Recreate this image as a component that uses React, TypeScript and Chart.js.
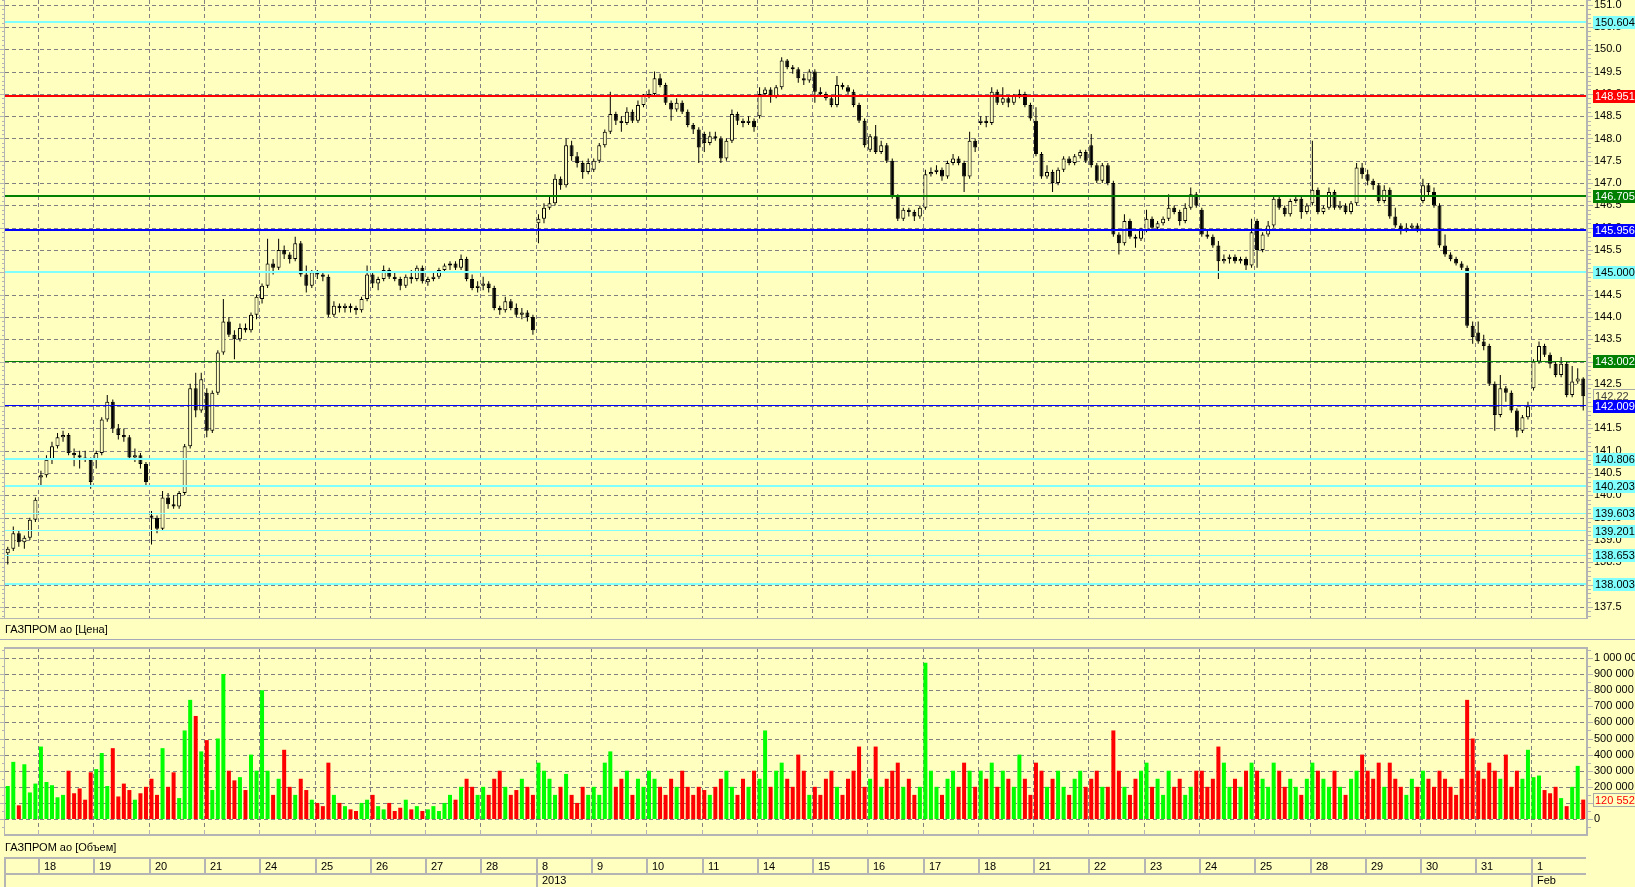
import React, { useEffect, useRef } from 'react';
import { Chart, registerables } from 'chart.js';

Chart.register(...registerables);

// ---------------- DATA ----------------
const dayLabels = ['18', '19', '20', '21', '24', '25', '26', '27', '28', '8', '9', '10', '11', '14', '15', '16', '17', '18', '21', '22', '23', '24', '25', '28', '29', '30', '31', '1'];
const periodDays = [9, 27];
const periodLabels = ['2013', 'Feb'];
const firstDayCandles = 6;
const candlesPerDay = 10;

const opens = [
  138.70, 138.80, 139.15, 138.95, 139.05, 139.45,
  140.40, 140.45, 140.80, 141.10, 141.30, 141.35, 140.95, 140.90, 140.85, 140.80,
  140.80, 140.95, 141.70, 142.10, 141.50, 141.35, 141.30, 140.85, 140.90, 140.70,
  139.55, 139.50, 139.25, 139.95, 139.80, 139.75, 140.05, 141.10, 142.40, 141.90,
  142.30, 141.45, 142.30, 143.20, 143.90, 143.60, 143.50, 143.75, 143.70, 144.05,
  144.40, 144.70, 145.20, 145.10, 145.50, 145.40, 145.30, 145.65, 144.95, 144.70,
  145.00, 144.95, 144.90, 144.05, 144.25, 144.20, 144.25, 144.20, 144.15, 144.40,
  144.95, 144.75, 144.85, 145.05, 144.90, 144.85, 144.70, 144.90, 144.85, 145.10,
  144.78, 144.85, 144.90, 145.05, 145.15, 145.20, 145.10, 145.30, 144.85, 144.65,
  144.70, 144.75, 144.65, 144.20, 144.15, 144.35, 144.20, 144.05, 144.10, 144.00,
  146.10, 146.20, 146.45, 146.55, 147.10, 146.95, 147.85, 147.60, 147.45, 147.25,
  147.30, 147.50, 147.85, 148.15, 148.55, 148.40, 148.35, 148.60, 148.40, 148.75,
  148.95, 149.00, 149.35, 149.20, 148.80, 148.65, 148.80, 148.60, 148.30, 148.20,
  148.10, 147.90, 148.05, 148.00, 147.55, 147.95, 148.55, 148.40, 148.35, 148.40,
  148.50, 149.00, 149.10, 148.95, 149.15, 149.75, 149.60, 149.55, 149.35, 149.30,
  149.50, 149.05, 149.00, 148.90, 148.75, 149.20, 149.15, 149.05, 148.75, 148.40,
  147.75, 148.05, 147.70, 147.85, 147.50, 146.70, 146.20, 146.40, 146.35, 146.25,
  146.45, 147.20, 147.25, 147.30, 147.15, 147.45, 147.55, 147.45, 147.15, 147.95,
  148.35, 148.40, 148.35, 149.05, 148.80, 148.90, 148.80, 148.95, 149.00, 148.75,
  148.40, 147.65, 147.15, 147.25, 147.00, 147.30, 147.55, 147.45, 147.60, 147.70,
  147.85, 147.40, 147.05, 147.40, 147.00, 145.85, 145.65, 146.15, 145.80, 145.75,
  145.95, 146.20, 146.00, 146.10, 146.20, 146.45, 146.35, 146.15, 146.45, 146.75,
  146.40, 145.85, 145.80, 145.60, 145.25, 145.30, 145.35, 145.25, 145.30, 145.15,
  146.15, 145.50, 145.85, 146.05, 146.65, 146.45, 146.30, 146.60, 146.65, 146.35,
  146.55, 146.85, 146.35, 146.45, 146.80, 146.45, 146.50, 146.35, 146.55, 147.35,
  147.20, 147.05, 146.95, 146.60, 146.85, 146.25, 146.05, 145.95, 146.00, 146.05,
  146.60, 146.95, 146.80, 146.50, 145.60, 145.40, 145.30, 145.20, 145.10, 143.80,
  143.65, 143.45, 143.35, 142.50, 141.80, 142.40, 142.30, 141.90, 141.45, 141.75,
  142.40, 143.00, 143.35, 143.15, 142.95, 142.70, 142.95, 142.25, 142.55, 142.62,
];

const highs = [
  138.85, 139.30, 139.20, 139.10, 139.50, 139.95,
  140.55, 140.90, 141.20, 141.40, 141.45, 141.40, 141.05, 141.00, 141.00, 140.85,
  141.00, 141.75, 142.25, 142.15, 141.60, 141.50, 141.35, 141.05, 140.95, 140.75,
  139.65, 139.55, 140.10, 140.05, 140.00, 140.10, 141.15, 142.50, 142.75, 142.75,
  142.40, 142.35, 143.25, 144.40, 144.00, 143.70, 143.85, 143.85, 144.10, 144.50,
  144.75, 145.75, 145.30, 145.75, 145.60, 145.45, 145.80, 145.70, 145.15, 145.05,
  145.05, 145.00, 144.95, 144.35, 144.30, 144.30, 144.30, 144.25, 144.45, 145.15,
  145.00, 144.90, 145.15, 145.10, 145.00, 144.90, 144.95, 145.05, 145.15, 145.15,
  144.90, 145.00, 145.10, 145.20, 145.25, 145.25, 145.40, 145.35, 144.95, 144.80,
  144.90, 144.80, 144.70, 144.25, 144.45, 144.40, 144.30, 144.20, 144.15, 144.05,
  146.30, 146.55, 146.70, 147.20, 147.15, 148.00, 147.95, 147.70, 147.50, 147.55,
  147.55, 147.90, 148.20, 149.05, 148.60, 148.50, 148.70, 148.65, 148.85, 149.00,
  149.10, 149.50, 149.45, 149.25, 148.85, 148.90, 148.85, 148.65, 148.35, 148.25,
  148.15, 148.15, 148.15, 148.05, 148.00, 148.65, 148.60, 148.45, 148.50, 148.45,
  149.15, 149.15, 149.15, 149.20, 149.82, 149.78, 149.65, 149.60, 149.45, 149.55,
  149.55, 149.15, 149.05, 148.95, 149.40, 149.25, 149.20, 149.10, 148.80, 148.45,
  148.10, 148.30, 147.95, 147.90, 147.55, 146.75, 146.45, 146.45, 146.40, 146.50,
  147.30, 147.35, 147.40, 147.35, 147.50, 147.65, 147.60, 147.50, 148.15, 148.00,
  148.50, 148.50, 149.15, 149.10, 149.15, 148.95, 149.00, 149.10, 149.05, 148.80,
  148.70, 147.70, 147.40, 147.30, 147.35, 147.60, 147.60, 147.65, 147.75, 147.75,
  148.10, 147.45, 147.45, 147.45, 147.05, 145.90, 146.30, 146.20, 145.85, 146.00,
  146.40, 146.25, 146.15, 146.25, 146.75, 146.50, 146.40, 146.55, 146.90, 146.80,
  146.45, 145.95, 145.85, 145.70, 145.40, 145.40, 145.40, 145.35, 145.35, 146.20,
  146.20, 145.90, 146.15, 146.70, 146.70, 146.50, 146.65, 146.70, 146.70, 146.55,
  147.95, 146.90, 146.50, 146.90, 146.85, 146.60, 146.55, 146.60, 147.45, 147.45,
  147.30, 147.10, 147.00, 146.95, 146.90, 146.45, 146.10, 146.10, 146.10, 146.10,
  147.10, 147.00, 146.90, 146.55, 145.85, 145.45, 145.35, 145.25, 145.15, 143.90,
  143.90, 143.60, 143.40, 142.55, 142.70, 142.45, 142.35, 141.95, 141.80, 142.10,
  143.05, 143.45, 143.40, 143.20, 143.00, 143.10, 143.00, 142.90, 142.85, 142.65,
];

const lows = [
  138.45, 138.75, 138.85, 138.80, 139.00, 139.40,
  140.20, 140.40, 140.70, 141.05, 141.20, 140.90, 140.65, 140.60, 140.75, 140.15,
  140.60, 140.90, 141.65, 141.40, 141.25, 141.20, 140.80, 140.75, 140.60, 140.20,
  138.90, 139.15, 139.20, 139.70, 139.70, 139.70, 140.00, 141.05, 141.75, 141.85,
  141.30, 141.40, 142.25, 143.15, 143.55, 143.05, 143.45, 143.65, 143.65, 143.95,
  144.30, 144.65, 144.95, 145.05, 145.30, 145.20, 145.25, 144.90, 144.55, 144.65,
  144.85, 144.80, 144.00, 144.00, 144.10, 144.10, 144.10, 144.05, 144.10, 144.35,
  144.65, 144.60, 144.80, 144.85, 144.80, 144.60, 144.65, 144.75, 144.80, 144.75,
  144.70, 144.80, 144.85, 145.00, 145.05, 145.05, 145.05, 144.80, 144.60, 144.55,
  144.60, 144.55, 144.15, 144.05, 144.10, 144.15, 144.00, 143.95, 143.90, 143.60,
  145.65, 146.10, 146.40, 146.50, 146.85, 146.90, 147.50, 147.35, 147.10, 147.20,
  147.25, 147.45, 147.80, 148.10, 148.30, 148.15, 148.30, 148.35, 148.35, 148.70,
  148.90, 148.95, 149.15, 148.75, 148.40, 148.60, 148.55, 148.25, 148.10, 147.45,
  147.70, 147.85, 147.95, 147.45, 147.50, 147.90, 148.30, 148.25, 148.30, 148.15,
  148.45, 148.95, 148.80, 148.90, 149.10, 149.55, 149.45, 149.25, 149.20, 149.25,
  148.80, 148.95, 148.85, 148.70, 148.70, 149.10, 149.00, 148.70, 148.35, 147.80,
  147.70, 147.65, 147.65, 147.45, 146.65, 146.15, 146.15, 146.25, 146.15, 146.20,
  146.40, 147.15, 147.20, 147.05, 147.10, 147.40, 147.40, 146.80, 147.10, 147.70,
  148.30, 148.25, 148.30, 148.75, 148.75, 148.70, 148.75, 148.90, 148.70, 148.40,
  147.60, 147.10, 147.10, 146.80, 146.95, 147.25, 147.40, 147.40, 147.55, 147.45,
  147.35, 147.00, 147.00, 146.95, 145.80, 145.40, 145.60, 145.75, 145.55, 145.70,
  145.90, 145.95, 145.95, 146.05, 146.15, 146.30, 146.05, 146.10, 146.40, 146.45,
  145.80, 145.75, 145.55, 144.85, 145.20, 145.20, 145.20, 145.20, 145.05, 145.10,
  145.10, 145.45, 145.80, 146.00, 146.40, 146.25, 146.25, 146.55, 146.20, 146.30,
  146.50, 146.30, 146.30, 146.40, 146.40, 146.40, 146.30, 146.30, 146.50, 147.10,
  146.95, 146.85, 146.55, 146.55, 146.20, 146.00, 145.85, 145.90, 145.95, 145.90,
  146.55, 146.70, 146.45, 145.55, 145.35, 145.25, 145.15, 145.05, 143.75, 143.40,
  143.40, 143.25, 142.45, 141.45, 141.75, 142.10, 141.85, 141.30, 141.40, 141.70,
  142.35, 142.95, 143.10, 142.85, 142.65, 142.65, 142.20, 142.20, 142.50, 141.90,
];

const closes = [
  138.80, 139.15, 138.95, 139.05, 139.45, 139.90,
  140.45, 140.80, 141.10, 141.30, 141.35, 140.95, 140.90, 140.85, 140.80, 140.30,
  140.95, 141.70, 142.10, 141.50, 141.35, 141.30, 140.85, 140.90, 140.70, 140.30,
  139.50, 139.25, 139.95, 139.80, 139.75, 140.05, 141.10, 142.40, 141.90, 142.60,
  141.45, 142.30, 143.20, 143.90, 143.60, 143.50, 143.75, 143.70, 144.05, 144.45,
  144.70, 145.20, 145.10, 145.50, 145.40, 145.30, 145.65, 144.95, 144.70, 145.00,
  144.95, 144.90, 144.05, 144.25, 144.20, 144.25, 144.20, 144.15, 144.40, 144.95,
  144.75, 144.85, 145.05, 144.90, 144.85, 144.70, 144.90, 144.85, 145.10, 144.80,
  144.85, 144.90, 145.05, 145.15, 145.20, 145.10, 145.30, 144.85, 144.65, 144.70,
  144.75, 144.65, 144.20, 144.15, 144.35, 144.20, 144.05, 144.10, 144.00, 143.70,
  146.20, 146.45, 146.55, 147.10, 146.95, 147.85, 147.60, 147.45, 147.25, 147.45,
  147.50, 147.85, 148.15, 148.55, 148.40, 148.35, 148.60, 148.40, 148.75, 148.95,
  149.00, 149.35, 149.20, 148.80, 148.65, 148.80, 148.60, 148.30, 148.20, 147.80,
  147.90, 148.05, 148.00, 147.55, 147.95, 148.55, 148.40, 148.35, 148.40, 148.25,
  149.00, 149.10, 148.95, 149.15, 149.75, 149.60, 149.55, 149.35, 149.30, 149.50,
  149.05, 149.00, 148.90, 148.75, 149.20, 149.15, 149.05, 148.75, 148.40, 147.85,
  148.05, 147.70, 147.85, 147.50, 146.70, 146.20, 146.40, 146.35, 146.25, 146.45,
  147.20, 147.25, 147.30, 147.15, 147.45, 147.55, 147.45, 147.15, 147.95, 147.80,
  148.40, 148.35, 149.05, 148.80, 148.90, 148.80, 148.95, 149.00, 148.75, 148.45,
  147.65, 147.15, 147.25, 147.00, 147.30, 147.55, 147.45, 147.60, 147.70, 147.50,
  147.40, 147.05, 147.40, 147.00, 145.85, 145.65, 146.15, 145.80, 145.75, 145.95,
  146.20, 146.00, 146.10, 146.20, 146.45, 146.35, 146.15, 146.45, 146.75, 146.50,
  145.85, 145.80, 145.60, 145.25, 145.30, 145.35, 145.25, 145.30, 145.15, 145.90,
  145.50, 145.85, 146.05, 146.65, 146.45, 146.30, 146.60, 146.65, 146.35, 146.50,
  146.85, 146.35, 146.45, 146.80, 146.45, 146.50, 146.35, 146.55, 147.35, 147.20,
  147.05, 146.95, 146.60, 146.85, 146.25, 146.05, 145.95, 146.00, 146.05, 145.95,
  146.95, 146.80, 146.50, 145.60, 145.40, 145.30, 145.20, 145.10, 143.80, 143.55,
  143.45, 143.35, 142.50, 141.80, 142.40, 142.30, 141.90, 141.45, 141.75, 142.00,
  143.00, 143.35, 143.15, 142.95, 142.70, 142.95, 142.25, 142.55, 142.62, 142.22,
];

const volumes = [
  205000, 355000, 85000, 340000, 165000, 220000,
  450000, 230000, 210000, 135000, 150000, 300000, 160000, 190000, 120000, 290000,
  310000, 410000, 205000, 440000, 140000, 220000, 180000, 120000, 160000, 200000,
  250000, 150000, 440000, 200000, 290000, 130000, 550000, 740000, 640000, 420000,
  490000, 180000, 500000, 900000, 300000, 240000, 260000, 180000, 400000, 300000,
  800000, 300000, 150000, 250000, 430000, 200000, 150000, 250000, 180000, 120000,
  100000, 80000, 350000, 150000, 100000, 80000, 60000, 50000, 100000, 120000,
  150000, 80000, 60000, 100000, 50000, 70000, 120000, 60000, 80000, 50000,
  60000, 80000, 50000, 100000, 150000, 120000, 200000, 250000, 200000, 150000,
  200000, 150000, 250000, 300000, 200000, 150000, 180000, 250000, 200000, 150000,
  350000, 300000, 250000, 150000, 200000, 280000, 150000, 100000, 200000, 150000,
  200000, 150000, 350000, 420000, 200000, 250000, 300000, 150000, 250000, 200000,
  300000, 250000, 200000, 150000, 250000, 200000, 300000, 200000, 150000, 200000,
  180000, 150000, 200000, 250000, 300000, 200000, 150000, 250000, 200000, 300000,
  250000, 550000, 200000, 300000, 350000, 250000, 200000, 400000, 300000, 150000,
  200000, 150000, 250000, 300000, 200000, 150000, 250000, 300000, 450000, 200000,
  250000, 450000, 200000, 250000, 300000, 350000, 200000, 250000, 150000, 200000,
  970000, 300000, 200000, 150000, 250000, 300000, 200000, 350000, 300000, 200000,
  300000, 250000, 350000, 200000, 300000, 250000, 200000, 400000, 250000, 150000,
  350000, 300000, 200000, 250000, 300000, 200000, 150000, 250000, 300000, 200000,
  250000, 300000, 200000, 200000, 550000, 300000, 200000, 150000, 250000, 300000,
  350000, 200000, 250000, 150000, 300000, 200000, 250000, 150000, 200000, 300000,
  300000, 200000, 250000, 450000, 350000, 200000, 250000, 200000, 300000, 350000,
  300000, 250000, 200000, 350000, 300000, 200000, 250000, 200000, 150000, 250000,
  350000, 300000, 250000, 200000, 300000, 200000, 150000, 250000, 300000, 400000,
  300000, 250000, 350000, 200000, 350000, 250000, 200000, 150000, 250000, 200000,
  300000, 250000, 200000, 300000, 250000, 200000, 150000, 250000, 740000, 500000,
  300000, 250000, 350000, 300000, 250000, 400000, 200000, 300000, 250000, 430000,
  260000, 270000, 180000, 160000, 200000, 130000, 80000, 200000, 330000, 120552,
];

const levelValues = [150.6049, 148.9518, 146.7051, 145.9562, 145.0001, 143.0027, 142.0093, 140.806, 140.203, 139.6033, 139.2015, 138.653, 138.0033];
const levelLabels = ['150.6049', '148.9518', '146.7051', '145.9562', '145.0001', '143.0027', '142.0093', '140.8060', '140.2030', '139.6033', '139.2015', '138.6530', '138.0033'];

const priceCaption = 'ГАЗПРОМ ао [Цена]';
const volumeCaption = 'ГАЗПРОМ ао [Объем]';

// ---------------- STYLE ----------------
const CYAN = '#80FFFF';
const levelStyles = [
  { color: CYAN, text: '#000000', width: 2 },
  { color: '#FF0000', text: '#FFFFFF', width: 2 },
  { color: '#008000', text: '#FFFFFF', width: 2 },
  { color: '#0000FF', text: '#FFFFFF', width: 2 },
  { color: CYAN, text: '#000000', width: 2 },
  { color: '#008000', text: '#FFFFFF', width: 1 },
  { color: '#0000FF', text: '#FFFFFF', width: 1 },
  { color: CYAN, text: '#000000', width: 2 },
  { color: CYAN, text: '#000000', width: 2 },
  { color: CYAN, text: '#000000', width: 1 },
  { color: CYAN, text: '#000000', width: 1 },
  { color: CYAN, text: '#000000', width: 1 },
  { color: CYAN, text: '#000000', width: 2 },
];

const BG = '#FFFFC0';
const GRID = '#808080';
const AXIS = '#B4B4B4';
const FAMILY = '"Liberation Sans", Arial, sans-serif';
const FONT = '11px ' + FAMILY;
const W = 1635;
const PRICE_H = 640;
const VOL_TOP = 640;
const VOL_H = 887 - VOL_TOP;
const AXIS_W = 49;
const LABEL_X = 1593;

const PRICE_MIN = 137.25;
const PRICE_MAX = 151.105;
const PRICE_STEP = 0.5;
const VOL_MIN = -93000;
const VOL_MAX = 1062000;
const VOL_STEP = 100000;
const VOL_TICK_MAX = 1000000;

const n = closes.length;
const xLabels = closes.map((_, i) => String(i));
const isUp = closes.map((c, i) => c >= opens[i]);

function boundaryIndices(): number[] {
  const out: number[] = [];
  for (let k = 0; k < dayLabels.length; k++) out.push(firstDayCandles + k * candlesPerDay);
  return out;
}

function boundaryX(xs: any, idx: number): number {
  return (xs.getPixelForValue(idx - 1) + xs.getPixelForValue(idx)) / 2;
}

function fmtThousands(v: number): string {
  return String(Math.round(v)).replace(/\B(?=(\d{3})+(?!\d))/g, ' ');
}

function dashedGrid(ctx: CanvasRenderingContext2D, a: any, xs: any, ys: any, values: number[]) {
  ctx.save();
  ctx.strokeStyle = GRID;
  ctx.lineWidth = 1;
  ctx.setLineDash([4, 3]);
  ctx.beginPath();
  for (const v of values) {
    const py = Math.round(ys.getPixelForValue(v)) + 0.5;
    ctx.moveTo(a.left, py);
    ctx.lineTo(a.right, py);
  }
  for (const idx of boundaryIndices()) {
    const px = Math.round(boundaryX(xs, idx)) + 0.5;
    ctx.moveTo(px, a.top);
    ctx.lineTo(px, a.bottom);
  }
  ctx.stroke();
  ctx.restore();
}

function drawAxisTicks(ctx: CanvasRenderingContext2D, a: any, ys: any, values: number[], isMajor: (v: number) => boolean) {
  ctx.save();
  ctx.fillStyle = AXIS;
  ctx.fillRect(a.right, a.top, 2, a.bottom - a.top);
  ctx.fillRect(4, a.top, 1, a.bottom - a.top);
  values.forEach((v) => {
    const py = Math.round(ys.getPixelForValue(v));
    const major = isMajor(v);
    ctx.fillRect(a.right + 2, py, major ? 5 : 3, 1);
    ctx.fillRect(major ? 0 : 2, py, major ? 4 : 2, 1);
  });
  ctx.restore();
}

const pricePlugin = {
  id: 'pricePanel',
  beforeDraw(chart: any) {
    const { ctx } = chart;
    ctx.save();
    ctx.fillStyle = BG;
    ctx.fillRect(0, 0, chart.width, chart.height);
    ctx.restore();
  },
  beforeDatasetsDraw(chart: any) {
    const { ctx, chartArea: a, scales } = chart;
    const ys = scales.y;
    const vals = ys.ticks.map((t: any) => t.value);
    dashedGrid(ctx, a, scales.x, ys, vals);
    const minor: number[] = [];
    for (let k = Math.ceil(PRICE_MIN * 10); k <= Math.floor(PRICE_MAX * 10); k++) minor.push(k / 10);
    drawAxisTicks(ctx, a, ys, minor, (v) => Math.abs(v * 2 - Math.round(v * 2)) < 1e-6);
    ctx.save();
    ctx.fillStyle = AXIS;
    ctx.fillRect(0, Math.round(a.bottom), a.right + 2, 1);
    ctx.restore();
  },
  afterDatasetsDraw(chart: any) {
    const { ctx, chartArea: a, scales } = chart;
    ctx.save();
    levelValues.forEach((v, i) => {
      const st = levelStyles[i];
      const py = scales.y.getPixelForValue(v);
      ctx.fillStyle = st.color;
      ctx.fillRect(a.left, Math.round(py - st.width / 2), a.right - a.left, st.width);
    });
    ctx.restore();
  },
  afterDraw(chart: any) {
    const { ctx, scales } = chart;
    ctx.save();
    ctx.font = FONT;
    ctx.textBaseline = 'middle';
    ctx.textAlign = 'left';
    const last = closes[n - 1];
    const cy = Math.round(scales.y.getPixelForValue(last));
    ctx.fillStyle = BG;
    ctx.fillRect(LABEL_X, cy - 6, 60, 13);
    ctx.strokeStyle = '#A8A8A8';
    ctx.lineWidth = 1;
    ctx.strokeRect(LABEL_X + 0.5, cy - 6.5, 60, 13);
    ctx.fillStyle = '#404040';
    ctx.fillText(last.toFixed(2), LABEL_X + 2, cy + 1);
    levelValues.forEach((v, i) => {
      const st = levelStyles[i];
      const py = Math.round(scales.y.getPixelForValue(v));
      ctx.fillStyle = st.color;
      ctx.fillRect(LABEL_X, py - 6, 60, 13);
      ctx.fillStyle = st.text;
      ctx.fillText(levelLabels[i], LABEL_X + 2, py + 1);
    });
    ctx.fillStyle = '#000000';
    ctx.fillText(priceCaption, 5, 630);
    ctx.fillStyle = '#A4A8B8';
    ctx.fillRect(0, 639, W, 1);
    ctx.restore();
  },
};

const volumePlugin = {
  id: 'volumePanel',
  beforeDraw(chart: any) {
    const { ctx } = chart;
    ctx.save();
    ctx.fillStyle = BG;
    ctx.fillRect(0, 0, chart.width, chart.height);
    ctx.restore();
  },
  beforeDatasetsDraw(chart: any) {
    const { ctx, chartArea: a, scales } = chart;
    const ys = scales.y;
    const vals = ys.ticks.map((t: any) => t.value);
    dashedGrid(ctx, a, scales.x, ys, vals);
    const minor: number[] = [];
    for (let k = Math.ceil(VOL_MIN / 50000); k * 50000 <= VOL_MAX; k++) minor.push(k * 50000);
    drawAxisTicks(ctx, a, ys, minor, (v) => Math.round(v / 50000) % 2 === 0);
    ctx.save();
    ctx.fillStyle = AXIS;
    ctx.fillRect(4, Math.round(a.top) - 1, a.right - 2, 2);
    ctx.fillRect(4, Math.round(a.bottom), a.right - 2, 2);
    for (const idx of boundaryIndices()) {
      const px = Math.round(boundaryX(scales.x, idx));
      ctx.fillRect(px, Math.round(a.bottom) - 4, 1, 4);
    }
    ctx.restore();
  },
  afterDraw(chart: any) {
    const { ctx, chartArea: a, scales } = chart;
    ctx.save();
    ctx.font = FONT;
    ctx.textBaseline = 'middle';
    ctx.textAlign = 'left';
    const lastV = volumes[n - 1];
    const vy = Math.round(scales.y.getPixelForValue(lastV));
    ctx.fillStyle = BG;
    ctx.fillRect(LABEL_X, vy - 6, 60, 13);
    ctx.strokeStyle = '#A8A8A8';
    ctx.lineWidth = 1;
    ctx.strokeRect(LABEL_X + 0.5, vy - 6.5, 60, 13);
    ctx.fillStyle = isUp[n - 1] ? '#00A000' : '#FF0000';
    ctx.fillText(fmtThousands(lastV), LABEL_X + 2, vy + 1);
    ctx.fillStyle = '#000000';
    ctx.fillText(volumeCaption, 5, 848 - VOL_TOP);
    // date axis
    const r1 = 857 - VOL_TOP;
    const r2 = 873 - VOL_TOP;
    const r3 = VOL_H;
    ctx.fillStyle = AXIS;
    ctx.fillRect(4, r1, a.right - 4, 2);
    ctx.fillRect(4, r2, a.right - 4, 2);
    ctx.fillRect(4, r1, 2, r3 - r1);
    const bidx = boundaryIndices();
    bidx.forEach((idx, k) => {
      const px = Math.round(boundaryX(scales.x, idx));
      ctx.fillStyle = AXIS;
      ctx.fillRect(px, r1, 2, r2 - r1);
      ctx.fillStyle = '#000000';
      ctx.fillText(dayLabels[k], px + 6, (r1 + r2) / 2 + 1.5);
    });
    periodDays.forEach((d, i) => {
      const px = Math.round(boundaryX(scales.x, bidx[d]));
      ctx.fillStyle = AXIS;
      ctx.fillRect(px, r2, 2, r3 - r2);
      ctx.fillStyle = '#000000';
      ctx.fillText(periodLabels[i], px + 6, r2 + 8);
    });
    ctx.restore();
  },
};

function noPadFit(s: any) {
  s.width = AXIS_W;
  s.paddingTop = 0;
  s.paddingBottom = 0;
}

function stepTicks(lo: number, hi: number, step: number) {
  const out: { value: number }[] = [];
  for (let k = Math.ceil(lo / step - 1e-9); k * step <= hi + 1e-9; k++) out.push({ value: Math.round(k * step * 1000) / 1000 });
  return out;
}

export default function App() {
  const priceRef = useRef<HTMLCanvasElement>(null);
  const volRef = useRef<HTMLCanvasElement>(null);

  useEffect(() => {
    const bodyData = closes.map((c, i) => [opens[i], c]);
    const wickData = highs.map((h, i) => [lows[i], h]);
    const bodyColors = isUp.map((u) => (u ? BG : '#000000'));
    const volColors = isUp.map((u) => (u ? '#00FF00' : '#FF0000'));

    const priceChart = new Chart(priceRef.current as HTMLCanvasElement, {
      type: 'bar',
      data: {
        labels: xLabels,
        datasets: [
          {
            label: 'body',
            data: bodyData as any,
            backgroundColor: bodyColors,
            borderColor: '#000000',
            borderWidth: 1,
            borderSkipped: false,
            barThickness: 4,
            grouped: false,
            minBarLength: 1,
            inflateAmount: 0,
          } as any,
          {
            label: 'wick',
            data: wickData as any,
            backgroundColor: '#000000',
            borderWidth: 0,
            barThickness: 1,
            grouped: false,
            inflateAmount: 0,
          } as any,
        ],
      },
      options: {
        animation: false,
        responsive: false,
        maintainAspectRatio: false,
        events: [],
        layout: { padding: { left: 5, right: 0, top: 0, bottom: PRICE_H - 618 } },
        plugins: { legend: { display: false }, tooltip: { enabled: false } },
        scales: {
          x: { type: 'category', display: false, offset: true, grid: { display: false } },
          y: {
            type: 'linear',
            position: 'right',
            min: PRICE_MIN,
            max: PRICE_MAX,
            afterFit: noPadFit,
            afterBuildTicks: (s: any) => {
              s.ticks = stepTicks(PRICE_MIN, PRICE_MAX, PRICE_STEP);
            },
            grid: { display: false, drawTicks: false, tickLength: 0 },
            border: { display: false },
            ticks: {
              autoSkip: false,
              padding: 8,
              color: '#000000',
              font: { family: FAMILY, size: 11 },
              callback: (v: any) => Number(v).toFixed(1),
            },
          },
        },
      } as any,
      plugins: [pricePlugin],
    });

    const volChart = new Chart(volRef.current as HTMLCanvasElement, {
      type: 'bar',
      data: {
        labels: xLabels,
        datasets: [
          {
            label: 'volume',
            data: volumes,
            backgroundColor: volColors,
            borderWidth: 0,
            barThickness: 4,
            inflateAmount: 0,
          } as any,
        ],
      },
      options: {
        animation: false,
        responsive: false,
        maintainAspectRatio: false,
        events: [],
        layout: { padding: { left: 5, right: 0, top: 648 - VOL_TOP, bottom: VOL_H - (834 - VOL_TOP) } },
        plugins: { legend: { display: false }, tooltip: { enabled: false } },
        scales: {
          x: { type: 'category', display: false, offset: true, grid: { display: false } },
          y: {
            type: 'linear',
            position: 'right',
            min: VOL_MIN,
            max: VOL_MAX,
            afterFit: noPadFit,
            afterBuildTicks: (s: any) => {
              s.ticks = stepTicks(0, VOL_TICK_MAX, VOL_STEP);
            },
            grid: { display: false, drawTicks: false, tickLength: 0 },
            border: { display: false },
            ticks: {
              autoSkip: false,
              padding: 8,
              color: '#000000',
              font: { family: FAMILY, size: 11 },
              callback: (v: any) => fmtThousands(Number(v)),
            },
          },
        },
      } as any,
      plugins: [volumePlugin],
    });

    return () => {
      priceChart.destroy();
      volChart.destroy();
    };
  }, []);

  return (
    <div style={{ position: 'fixed', left: 0, top: 0, width: W, height: 887, background: BG, overflow: 'hidden' }}>
      <canvas ref={priceRef} width={W} height={PRICE_H} style={{ position: 'absolute', left: 0, top: 0, width: W, height: PRICE_H }} />
      <canvas ref={volRef} width={W} height={VOL_H} style={{ position: 'absolute', left: 0, top: VOL_TOP, width: W, height: VOL_H }} />
    </div>
  );
}
